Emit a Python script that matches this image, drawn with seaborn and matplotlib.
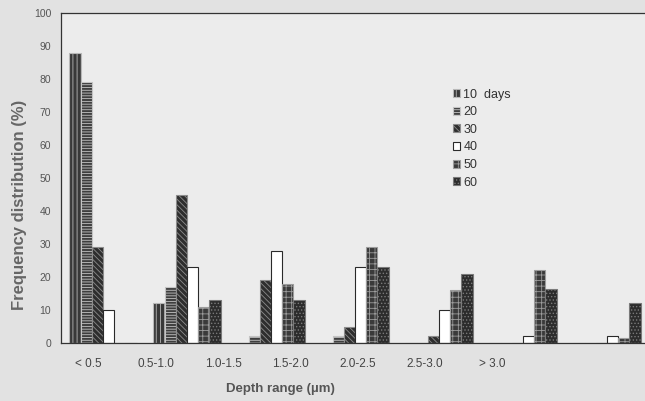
import matplotlib
matplotlib.use("Agg")
import matplotlib.pyplot as plt
import seaborn as sns
import pandas as pd

# ── Data ────────────────────────────────────────────────────────────────
depth_ranges = ["< 0.5", "0.5-1.0", "1.0-1.5", "1.5-2.0", "2.0-2.5", "2.5-3.0", "> 3.0"]
day_labels   = ["10  days", "20", "30", "40", "50", "60"]

days_10 = [88, 12, 0, 0, 0, 0, 0]
days_20 = [79, 17, 2, 2, 0, 0, 0]
days_30 = [29, 45, 19, 5, 2, 0, 0]
days_40 = [10, 23, 28, 23, 10, 2, 2]
days_50 = [0, 11, 18, 29, 16, 22, 1.5]
days_60 = [0, 13, 13, 23, 21, 16.5, 12]

series = [days_10, days_20, days_30, days_40, days_50, days_60]
df = pd.DataFrame(
    [(rng, lab, v) for lab, vals in zip(day_labels, series) for rng, v in zip(depth_ranges, vals)],
    columns=["range", "days", "freq"],
)

# face colour, hatch, edge colour per series (scanned greyscale look)
face   = ["#383838", "#3e3e3e", "#2e2e2e", "#ffffff", "#3a3a3a", "#2c2c2c"]
hatch  = ["||||", "------", "\\\\\\\\\\\\", "", "+++", "....."]
edge   = ["#b8b8b8", "#c4c4c4", "#8c8c8c", "#2a2a2a", "#9c9c9c", "#7a7a7a"]

sns.set_theme(style="white")
plt.rcParams["font.family"] = ["Liberation Sans", "DejaVu Sans"]
plt.rcParams["hatch.linewidth"] = 0.6

fig = plt.figure(figsize=(6.45, 4.01), dpi=100, facecolor="#e2e2e2")
ax = fig.add_axes([61 / 645, 58 / 401, 588 / 645, 330 / 401])
ax.set_facecolor("#ececec")

sns.barplot(data=df, x="range", y="freq", hue="days", hue_order=day_labels,
            palette=dict(zip(day_labels, face)), width=0.8, saturation=1,
            legend=False, ax=ax)

for cont, h, ec in zip(ax.containers, hatch, edge):
    for bar in cont:
        bar.set_hatch(h)
        bar.set_edgecolor(ec)
        bar.set_linewidth(0.8)

ax.legend(ax.containers, day_labels, loc="upper left", bbox_to_anchor=(0.647, 0.805),
          frameon=False, fontsize=9, handlelength=0.6, handleheight=0.6,
          handletextpad=0.25, labelspacing=0.45, labelcolor="#333333")

# axes
ax.set_xlim(-0.5, 6.5)
ax.set_ylim(0, 100)
ax.set_yticks(range(0, 101, 10))
ax.tick_params(axis="y", direction="in", length=3, width=0.8, labelsize=7.5,
               labelcolor="#555555", color="#333333", pad=7)
# tick labels sit left of the bar groups in the original print
ax.set_xticks([-0.17 + 0.8 * i for i in range(len(depth_ranges))])
ax.set_xticklabels(depth_ranges)
ax.tick_params(axis="x", length=0, labelsize=8.5, labelcolor="#444444", pad=11)

for side in ["left", "top", "bottom"]:
    ax.spines[side].set_color("#333333")
    ax.spines[side].set_linewidth(0.9)
ax.spines["right"].set_visible(False)

ax.set_xlabel("Depth range (\u00b5m)", fontsize=9.5, fontweight="bold", color="#555555")
ax.xaxis.set_label_coords(0.374, -0.12)
ax.set_ylabel("Frequency distribution (%)", fontsize=12, fontweight="bold", color="#666666")
ax.yaxis.set_label_coords(-0.058, 0.42)

fig.savefig("out.png", dpi=100, facecolor=fig.get_facecolor())
